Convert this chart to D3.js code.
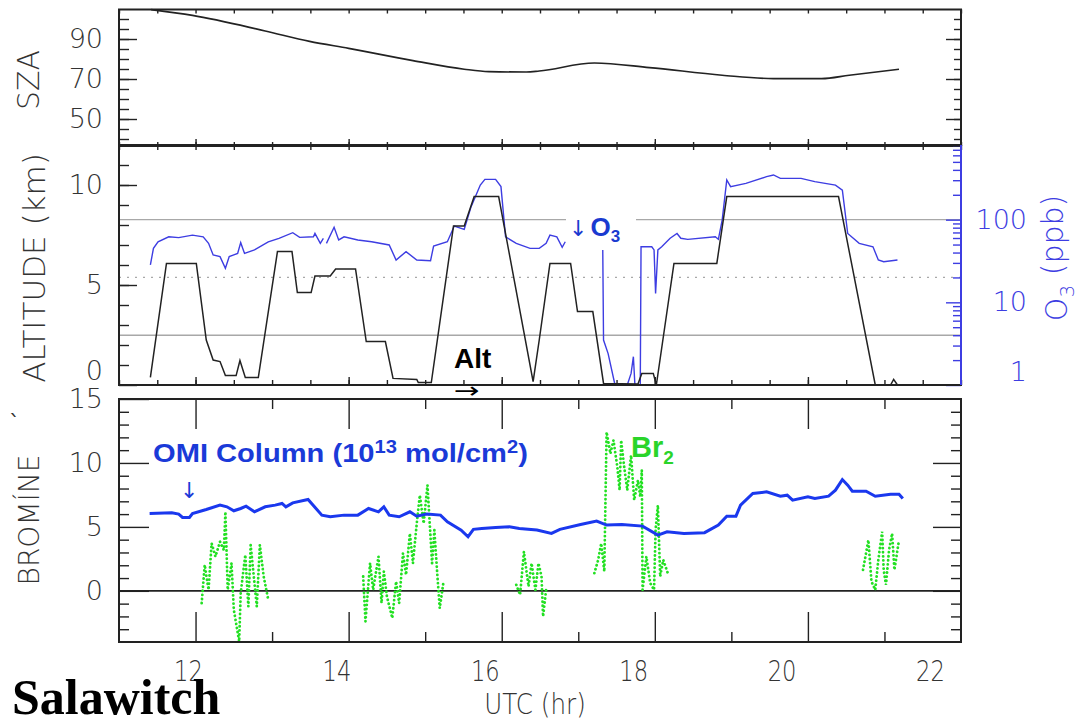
<!DOCTYPE html>
<html>
<head>
<meta charset="utf-8">
<script src="https://cdn.jsdelivr.net/npm/d3@7"></script>
<style>
body { margin: 0; background: #fff; }
</style>
</head>
<body>
<script>
var width = 1081, height = 723;

// solar zenith angle (deg)
var szaHour = [11.42, 11.96, 12.91, 13.49, 14.0, 14.84, 15.51, 15.83, 16.32, 16.49, 17.21, 17.93, 18.88, 19.55, 20.18, 20.54, 21.19];
var szaDeg  = [104.7, 101.8, 94.0, 88.8, 85.3, 79.2, 74.9, 73.7, 73.5, 74.0, 78.0, 75.7, 71.9, 70.2, 70.2, 71.9, 74.9];

// aircraft altitude (km)
var altHour = [11.41, 11.62, 12.01, 12.14, 12.23, 12.32, 12.39, 12.53, 12.58, 12.65, 12.82, 13.07, 13.26, 13.33, 13.51, 13.56, 13.76, 13.83, 14.09, 14.23, 14.48, 14.58, 14.89, 14.91, 15.08, 15.37, 15.51, 15.64, 15.96, 16.41, 16.49, 16.63, 16.9, 16.99, 17.19, 17.33, 17.78, 17.83, 17.98, 18.02, 18.25, 18.81, 18.94, 20.4, 20.88, 21.08, 21.12, 21.17];
var altKm   = [0.38, 6.08, 6.08, 2.25, 1.25, 1.17, 0.47, 0.47, 1.22, 0.37, 0.37, 6.67, 6.67, 4.62, 4.62, 5.45, 5.45, 5.8, 5.8, 2.17, 2.17, 0.33, 0.28, 0.12, 0.12, 7.95, 7.95, 9.42, 9.42, 0.17, 2.25, 6.08, 6.08, 3.67, 3.67, 0.08, 0.05, 0.58, 0.58, 0.0, 6.08, 6.08, 9.42, 9.42, 0.0, 0.0, 0.28, 0.0];

// ozone (ppb), null = no data
var o3Hour = [11.41, 11.45, 11.51, 11.65, 11.78, 11.96, 12.1, 12.17, 12.23, 12.32, 12.39, 12.44, 12.55, 12.59, 12.64, 12.77, 12.95, 13.09, 13.27, 13.36, 13.54, 13.56, 13.63, 13.67, 13.69, 13.71, 13.81, 13.87, 13.94, 14.12, 14.3, 14.53, 14.62, 14.75, 14.89, 15.07, 15.11, 15.29, 15.38, 15.51, 15.6, 15.72, 15.78, 15.92, 15.99, 16.05, 16.19, 16.37, 16.49, 16.58, 16.63, 16.72, 16.79, 16.83, 17.0, 17.32, 17.33, 17.39, 17.48, 17.64, 17.69, 17.72, 17.74, 17.81, 17.82, 17.96, 17.99, 18.01, 18.04, 18.09, 18.2, 18.29, 18.34, 18.43, 18.79, 18.83, 18.88, 18.94, 18.99, 19.19, 19.46, 19.55, 19.64, 19.91, 20.09, 20.36, 20.45, 20.52, 20.67, 20.85, 20.92, 20.99, 21.17];
var o3Ppb  = [28.3, 45, 54, 62, 60.6, 65, 62, 51.7, 37.4, 35.7, 25.8, 35.7, 39.1, 52.7, 39.1, 43, 54, 59.5, 69.6, 61, 62, 68.3, 51.7, 59.5, null, 51.7, 80.8, 56.8, 62, 56.8, 54, 49.4, 32.5, 41, 32.5, 31.9, 48, 54, 83.8, 76.4, 143.6, 262, 307, 307, 251, 62, 51.7, 45, 45, 51.7, 65, 62, 46.3, 54, null, 43, 3.5, 2.4, 1, 1, 1.38, 2.2, 1, 1, 47, 47, 43, 12.8, 43, 47, 59.5, 68, 59.5, 57.8, 62, 57.8, 99, 302, 251, 275, 331, 347, 316, 316, 288, 262, 228, 68, 51.7, 47, 32.5, 31, 32.5];

// OMI BrO column (1e13 mol/cm2)
var omiHour = [11.4, 11.69, 11.78, 11.83, 11.92, 11.96, 12.14, 12.32, 12.41, 12.5, 12.59, 12.66, 12.77, 12.91, 13.04, 13.13, 13.18, 13.27, 13.47, 13.65, 13.76, 13.94, 14.12, 14.26, 14.39, 14.46, 14.53, 14.66, 14.8, 14.89, 15.02, 15.2, 15.29, 15.47, 15.56, 15.63, 15.74, 15.92, 16.1, 16.23, 16.46, 16.65, 16.76, 17.03, 17.24, 17.37, 17.57, 17.84, 18.04, 18.16, 18.38, 18.65, 18.83, 18.94, 19.06, 19.12, 19.28, 19.46, 19.64, 19.73, 19.8, 20.0, 20.09, 20.27, 20.36, 20.45, 20.52, 20.58, 20.76, 20.88, 21.08, 21.19, 21.24];
var omiCol  = [6.05, 6.1, 6.0, 5.74, 5.74, 6.05, 6.36, 6.7, 6.57, 6.26, 6.44, 6.62, 6.18, 6.57, 6.7, 6.83, 6.57, 6.88, 7.14, 5.92, 5.79, 5.92, 5.92, 6.44, 6.18, 6.57, 5.92, 5.79, 6.18, 5.84, 6.0, 5.92, 5.4, 4.75, 4.23, 4.81, 4.88, 4.96, 5.01, 4.88, 4.75, 4.49, 4.81, 5.19, 5.45, 5.14, 5.19, 5.06, 4.36, 4.62, 4.49, 4.55, 5.14, 5.84, 5.84, 6.7, 7.61, 7.74, 7.4, 7.48, 7.09, 7.35, 7.22, 7.4, 7.87, 8.7, 8.26, 7.79, 7.79, 7.4, 7.56, 7.56, 7.22];

// Br2 (pptv), null = gap between flight legs
var br2Hour = [12.08, 12.12, 12.17, 12.21, 12.26, 12.32, 12.37, 12.39, 12.42, 12.47, 12.5, 12.57, 12.59, 12.65, 12.69, 12.72, 12.8, 12.84, 12.89, 12.95, 13.5,
  14.19, 14.22, 14.28, 14.32, 14.39, 14.43, 14.46, 14.5, 14.57, 14.62, 14.66, 14.71, 14.75, 14.8, 14.84, 14.89, 14.93, 14.98, 15.03, 15.09, 15.12, 15.16, 15.19, 15.24, 15.7,
  16.19, 16.24, 16.29, 16.35, 16.39, 16.44, 16.48, 16.52, 16.54, 16.58, 16.9,
  17.21, 17.26, 17.3, 17.34, 17.37, 17.42, 17.46, 17.51, 17.54, 17.56, 17.6, 17.64, 17.69, 17.73, 17.78, 17.81, 17.83, 17.84, 17.89, 17.94, 17.99, 18.01, 18.04, 18.07, 18.11, 18.17, 19.5,
  20.72, 20.79, 20.83, 20.88, 20.92, 20.97, 20.99, 21.02, 21.06, 21.1, 21.13, 21.19];
var br2Val  = [-0.96, 2.03, 0.08, 3.71, 2.68, 3.84, 3.19, 6.18, 0.08, 2.16, -1.48, -3.95, -0.18, 2.81, -1.22, 3.58, -1.22, 3.58, 1.12, -0.7, null,
  1.12, -2.39, 2.16, 0.08, 2.68, -0.96, 1.51, -0.44, -2.13, 0.73, -0.96, 2.94, 1.25, 4.49, 2.16, 5.27, 7.48, 5.27, 8.26, 2.16, 4.75, 1.12, -1.35, 0.73, null,
  0.47, -0.31, 3.06, 0.34, 2.16, 0.08, 2.16, 1.12, -2.0, 0.08, null,
  1.38, 2.42, 3.71, 1.51, 12.42, 10.73, 11.77, 9.69, 7.87, 11.77, 9.69, 7.87, 10.6, 7.09, 8.65, 7.35, 9.43, 0.08, 2.68, 0.6, 0.08, 4.75, 6.7, 1.12, 2.42, 1.38, null,
  1.64, 3.97, 0.73, 0.08, 2.42, 4.62, 1.64, 0.47, 3.19, 4.49, 1.64, 3.97];

// reference ozone levels drawn across the altitude panel
var o3Solid = [100, 4];
var o3Dotted = [20];

var hourTicks = [12, 14, 16, 18, 20, 22];

var svg = d3.select("body").append("svg")
    .attr("width", width)
    .attr("height", height)
    .attr("font-family", "DejaVu Sans, sans-serif");

// panel geometry
var left = 119, right = 961;
var x = d3.scaleLinear().domain([11, 22]).range([left, right]);
// the hour labels under the plot sit on a slightly narrower spacing than the ticks
var xLab = d3.scaleLinear().domain([12, 22]).range([188, 930]);
var ySza = d3.scaleLinear().domain([36.5, 104.75]).range([146, 9.5]);
var yAlt = d3.scaleLinear().domain([0, 12]).range([385, 145]);
var yO3 = d3.scaleLog().domain([1, 800]).range([385, 145]);
var yBr = d3.scaleLinear().domain([-4, 15]).range([642, 399]);

var ink = "#222", blue = "#3d3de2", omiBlue = "#1a38ee", green = "#22e022";
var bold = "Liberation Sans, Arial, sans-serif";
var arrowFont = "DejaVu Sans, sans-serif";

function range(a, b, s) { return d3.range(a, b + s / 2, s); }

// add an axis with inward ticks, strip the domain line
function axis(gen, tx, ty, color) {
  var g = svg.append("g")
    .attr("transform", "translate(" + tx + "," + ty + ")")
    .call(gen);
  g.select(".domain").remove();
  g.selectAll("line").attr("stroke", color || ink).attr("stroke-width", 1.4);
  g.selectAll("text").attr("fill", color || "#333").attr("font-size", 27)
    .attr("font-family", "DejaVu Sans, sans-serif").attr("font-weight", 300);
  return g;
}

function frame(y0, y1) {
  svg.append("rect")
    .attr("x", left).attr("y", y0)
    .attr("width", right - left).attr("height", y1 - y0)
    .attr("fill", "none").attr("stroke", ink).attr("stroke-width", 2);
}

// ---------- top panel: SZA ----------
var halfHours = range(11, 22, 0.5);
axis(d3.axisTop(x).tickValues(halfHours).tickSize(-4).tickFormat(""), 0, 9.5);
axis(d3.axisBottom(x).tickValues(halfHours).tickSize(-4).tickFormat(""), 0, 146);
axis(d3.axisBottom(x).tickValues(hourTicks.slice(0, 5)).tickSize(-7).tickFormat(""), 0, 146);
axis(d3.axisLeft(ySza).tickValues(range(40, 100, 5)).tickSize(-10).tickFormat(""), left, 0);
axis(d3.axisLeft(ySza).tickValues([50, 70, 90]).tickSize(-18).tickPadding(16), left, 0);
axis(d3.axisRight(ySza).tickValues(range(40, 100, 5)).tickSize(-7).tickFormat(""), right, 0);
axis(d3.axisRight(ySza).tickValues([50, 70, 90]).tickSize(-15).tickFormat(""), right, 0);

svg.append("path")
  .datum(d3.zip(szaHour, szaDeg))
  .attr("fill", "none").attr("stroke", ink).attr("stroke-width", 1.6)
  .attr("d", d3.line().curve(d3.curveMonotoneX)
    .x(function(d) { return x(d[0]); })
    .y(function(d) { return ySza(d[1]); }));
frame(9.5, 146);

// ---------- middle panel: altitude + O3 ----------
svg.selectAll(".o3ref").data(o3Solid.concat(o3Dotted)).enter().append("line")
  .attr("x1", left).attr("x2", right)
  .attr("y1", function(d) { return yO3(d); }).attr("y2", function(d) { return yO3(d); })
  .attr("stroke", "#a8a8a8").attr("stroke-width", 1.3)
  .attr("stroke-dasharray", function(d) { return o3Dotted.indexOf(d) >= 0 ? "2,6" : null; });

axis(d3.axisTop(x).tickValues(halfHours).tickSize(-5).tickFormat(""), 0, 145);
axis(d3.axisBottom(x).tickValues(halfHours).tickSize(-5).tickFormat(""), 0, 385);
axis(d3.axisBottom(x).tickValues(hourTicks.slice(0, 5)).tickSize(-8).tickFormat(""), 0, 385);
axis(d3.axisLeft(yAlt).tickValues(range(1, 11, 1)).tickSize(-10).tickFormat(""), left, 0);
var altAx = axis(d3.axisLeft(yAlt).tickValues([0, 5, 10]).tickSize(-18).tickPadding(16), left, 0);
altAx.selectAll(".tick text").filter(function(d) { return d === 0; }).attr("dy", "-0.2em");

var o3Minor = [2, 3, 4, 5, 6, 7, 8, 9, 20, 30, 40, 50, 60, 70, 80, 90, 200, 300, 400, 500, 600, 700, 800];
axis(d3.axisRight(yO3).tickValues(o3Minor).tickSize(-8).tickFormat(""), right, 0, blue);
var o3Ax = axis(d3.axisRight(yO3).tickValues([1, 10, 100]).tickSize(-15).tickPadding(66).tickFormat(d3.format("d")), right, 0, blue);
o3Ax.selectAll(".tick text").attr("text-anchor", "end");
o3Ax.selectAll(".tick text").filter(function(d) { return d === 1; }).attr("dy", "-0.15em");

svg.append("path")
  .datum(d3.zip(o3Hour, o3Ppb))
  .attr("fill", "none").attr("stroke", blue).attr("stroke-width", 1.4)
  .attr("d", d3.line()
    .defined(function(d) { return d[1] != null; })
    .x(function(d) { return x(d[0]); })
    .y(function(d) { return yO3(d[1]); }));

svg.append("path")
  .datum(d3.zip(altHour, altKm))
  .attr("fill", "none").attr("stroke", ink).attr("stroke-width", 1.5)
  .attr("d", d3.line()
    .x(function(d) { return x(d[0]); })
    .y(function(d) { return yAlt(d[1]); }));

frame(145, 385);
svg.append("line").attr("x1", right).attr("x2", right).attr("y1", 145).attr("y2", 385)
  .attr("stroke", blue).attr("stroke-width", 2);

// ---------- bottom panel: bromine ----------
var oddHours = [13, 15, 17, 19, 21];
var evenHours = hourTicks.slice(0, 5);
axis(d3.axisTop(x).tickValues(oddHours).tickSize(-10).tickFormat(""), 0, 399);
axis(d3.axisTop(x).tickValues(evenHours).tickSize(-30).tickFormat(""), 0, 399);
axis(d3.axisBottom(x).tickValues(oddHours).tickSize(-10).tickFormat(""), 0, 642);
axis(d3.axisBottom(x).tickValues(evenHours).tickSize(-30).tickFormat(""), 0, 642);
var brMinor = range(-3, 14, 1).filter(function(v) { return v % 5 !== 0; });
axis(d3.axisLeft(yBr).tickValues(brMinor).tickSize(-10).tickFormat(""), left, 0);
axis(d3.axisLeft(yBr).tickValues([0, 5, 10, 15]).tickSize(-30).tickPadding(16), left, 0);
axis(d3.axisRight(yBr).tickValues(brMinor).tickSize(-10).tickFormat(""), right, 0);
axis(d3.axisRight(yBr).tickValues([0, 5, 10]).tickSize(-28).tickFormat(""), right, 0);

svg.append("line")
  .attr("x1", left).attr("x2", right)
  .attr("y1", yBr(0)).attr("y2", yBr(0))
  .attr("stroke", ink).attr("stroke-width", 1.6);

svg.append("path")
  .datum(d3.zip(br2Hour, br2Val))
  .attr("fill", "none").attr("stroke", green).attr("stroke-width", 2.8)
  .attr("stroke-linecap", "round").attr("stroke-dasharray", "0.1,4")
  .attr("d", d3.line()
    .defined(function(d) { return d[1] != null; })
    .x(function(d) { return x(d[0]); })
    .y(function(d) { return yBr(d[1]); }));

svg.append("path")
  .datum(d3.zip(omiHour, omiCol))
  .attr("fill", "none").attr("stroke", omiBlue).attr("stroke-width", 3)
  .attr("d", d3.line()
    .x(function(d) { return x(d[0]); })
    .y(function(d) { return yBr(d[1]); }));

frame(399, 642);

// x tick labels (condensed) + title
var xl = axis(d3.axisBottom(xLab).tickValues(hourTicks).tickSize(0).tickPadding(18), 0, 642);
xl.selectAll("text").attr("font-size", 29).attr("transform", "scale(0.78,1)");

svg.append("text").attr("transform", "translate(535,714) scale(0.85,1)").attr("text-anchor", "middle")
  .attr("font-size", 29).attr("font-weight", 300).attr("fill", "#333").text("UTC (hr)");

// ---------- axis titles ----------
function vtitle(txt, cx, cy, size, color) {
  return svg.append("text")
    .attr("transform", "translate(" + cx + "," + cy + ") rotate(-90)")
    .attr("text-anchor", "middle").attr("dy", "0.36em")
    .attr("font-size", size).attr("font-weight", 300)
    .attr("fill", color || "#333").text(txt);
}
vtitle("SZA", 28, 80, 30);
vtitle("ALTITUDE (km)", 34, 268, 31);
vtitle("BROMÍNE", 29, 520, 28);
svg.append("text").attr("x", 9).attr("y", 430).attr("font-size", 22).attr("fill", "#333").text("`");

var o3t = svg.append("text")
  .attr("transform", "translate(1056,258) rotate(-90)")
  .attr("text-anchor", "middle").attr("dy", "0.36em")
  .attr("font-size", 30).attr("font-weight", 300).attr("fill", blue);
o3t.append("tspan").text("O");
o3t.append("tspan").attr("font-size", 20).attr("dy", "0.35em").text("3");
o3t.append("tspan").attr("dy", "-0.35em").text(" (ppb)");

// ---------- annotations ----------
var o3Label = svg.append("g");
o3Label.append("rect").attr("x", 566).attr("y", 208).attr("width", 70).attr("height", 36).attr("fill", "#fff");
var o3a = o3Label.append("text").attr("x", 569).attr("y", 236).attr("fill", "#1a3ad0");
o3a.append("tspan").attr("font-family", arrowFont).attr("font-size", 22).text("↓");
o3a.append("tspan").attr("font-family", bold).attr("font-size", 26).attr("font-weight", "bold").attr("dx", 3).text("O");
o3a.append("tspan").attr("font-family", bold).attr("font-size", 17).attr("font-weight", "bold").attr("dy", 6).text("3");

svg.append("text").attr("x", 454).attr("y", 368)
  .attr("font-family", bold).attr("font-weight", "bold").attr("font-size", 28)
  .attr("fill", "#000").text("Alt");
svg.append("text").attr("transform", "translate(454,398) scale(1.4,1)")
  .attr("font-family", arrowFont).attr("font-size", 22)
  .attr("fill", "#000").text("→");

var omi = svg.append("text").attr("x", 153).attr("y", 462)
  .attr("font-family", bold).attr("font-weight", "bold").attr("font-size", 26)
  .attr("fill", "#1a3ad8");
omi.append("tspan").text("OMI Column (10");
omi.append("tspan").attr("font-size", 18).attr("dy", -9).text("13");
omi.append("tspan").attr("dy", 9).text(" mol/cm");
omi.append("tspan").attr("font-size", 18).attr("dy", -9).text("2");
omi.append("tspan").attr("dy", 9).text(")");
(function() {
  var w = omi.node().getComputedTextLength(), k = 375 / w;
  omi.attr("transform", "translate(153,0) scale(" + k + ",1) translate(-153,0)");
})();

svg.append("text").attr("x", 180).attr("y", 498)
  .attr("font-family", arrowFont).attr("font-size", 22)
  .attr("fill", "#1a3ad8").text("↓");

var br = svg.append("text").attr("x", 631).attr("y", 457)
  .attr("font-family", bold).attr("font-weight", "bold").attr("font-size", 29)
  .attr("fill", "#2ad42a");
br.append("tspan").text("Br");
br.append("tspan").attr("font-size", 19).attr("dy", 7).text("2");

svg.append("text").attr("x", 12).attr("y", 714)
  .attr("font-family", "Liberation Serif, Times New Roman, serif")
  .attr("font-weight", "bold").attr("font-size", 50)
  .attr("fill", "#000").text("Salawitch");
</script>
</body>
</html>
